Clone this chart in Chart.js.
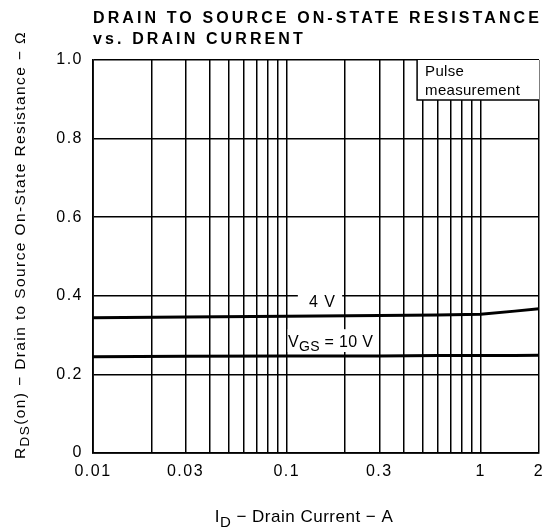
<!DOCTYPE html>
<html>
<head>
<meta charset="utf-8">
<script src="https://cdn.jsdelivr.net/npm/chart.js@4.4.1/dist/chart.umd.min.js"></script>
<style>
  html, body { margin: 0; padding: 0; background: #fff; }
  #wrap { width: 545px; height: 531px; position: relative; }
</style>
</head>
<body>
<div id="wrap"><canvas id="c" width="545" height="531"></canvas></div>
<script>
// ---- data ----
const currentA = [0.01, 0.03, 0.1, 0.3, 0.6, 1, 1.5, 2];
const rds4V    = [0.344, 0.346, 0.348, 0.350, 0.351, 0.353, 0.361, 0.367];
const rds10V   = [0.245, 0.246, 0.247, 0.247, 0.248, 0.248, 0.248, 0.249];

const xGridValues = [0.01,0.02,0.03,0.04,0.05,0.06,0.07,0.08,0.09,
                     0.1,0.2,0.3,0.4,0.5,0.6,0.7,0.8,0.9,1,2];
const xTickLabels = [0.01, 0.03, 0.1, 0.3, 1, 2];
const yTickValues = [0, 0.2, 0.4, 0.6, 0.8, 1.0];
const yTickLabels = ['0', '0.2', '0.4', '0.6', '0.8', '1.0'];

const titleLines = ['DRAIN TO SOURCE ON-STATE RESISTANCE', 'vs. DRAIN CURRENT'];
const label4V = '4 V';
const labelPulse = ['Pulse', 'measurement'];

const FONT = '"Liberation Sans", Arial, sans-serif';

function drawParts(ctx, parts, x, y, ls) {
  let cx = x;
  ctx.letterSpacing = (ls || 0) + 'px';
  parts.forEach(p => {
    ctx.font = p.size + 'px ' + FONT;
    ctx.fillText(p.t, cx, y + (p.dy || 0));
    cx += ctx.measureText(p.t).width;
  });
  return cx - x;
}
function partsWidth(ctx, parts, ls) {
  let w = 0;
  ctx.letterSpacing = (ls || 0) + 'px';
  parts.forEach(p => { ctx.font = p.size + 'px ' + FONT; w += ctx.measureText(p.t).width; });
  return w;
}

const decor = {
  id: 'decor',
  beforeDraw(chart) {
    chart.ctx.letterSpacing = '1.5px';
  },
  afterDatasetsDraw(chart) {
    const ctx = chart.ctx;
    const xs = chart.scales.x, ys = chart.scales.y;
    const area = chart.chartArea;
    ctx.save();
    ctx.fillStyle = '#000';
    ctx.strokeStyle = '#000';
    ctx.textBaseline = 'alphabetic';
    ctx.textAlign = 'left';

    // "4 V" label with white box
    let x0 = xs.getPixelForValue(0.114), x1 = xs.getPixelForValue(0.193);
    let y0 = ys.getPixelForValue(0.418), y1 = ys.getPixelForValue(0.358);
    ctx.fillStyle = '#fff';
    ctx.fillRect(x0, y0, x1 - x0, y1 - y0);
    ctx.fillStyle = '#000';
    drawParts(ctx, [{t: label4V, size: 16}], xs.getPixelForValue(0.13), ys.getPixelForValue(0.372), 1);

    // "VGS = 10 V" label with white box
    x0 = xs.getPixelForValue(0.101); x1 = xs.getPixelForValue(0.297);
    y0 = ys.getPixelForValue(0.315); y1 = ys.getPixelForValue(0.257);
    ctx.fillStyle = '#fff';
    ctx.fillRect(x0, y0, x1 - x0, y1 - y0);
    ctx.fillStyle = '#000';
    drawParts(ctx, [
      {t: 'V', size: 16},
      {t: 'GS', size: 14, dy: 4},
      {t: ' = 10 V', size: 16}
    ], xs.getPixelForValue(0.1015), ys.getPixelForValue(0.270), 0.3);

    // Pulse measurement box
    x0 = xs.getPixelForValue(0.47); x1 = area.right;
    y0 = area.top; y1 = ys.getPixelForValue(0.898);
    ctx.fillStyle = '#fff';
    ctx.fillRect(x0, y0, x1 - x0, y1 - y0);
    ctx.lineWidth = 1.5;
    ctx.beginPath();
    ctx.moveTo(x0, y0); ctx.lineTo(x0, y1); ctx.lineTo(x1, y1);
    ctx.stroke();
    ctx.fillStyle = '#000';
    drawParts(ctx, [{t: labelPulse[0], size: 15}], x0 + 8, y0 + 16, 0.3);
    drawParts(ctx, [{t: labelPulse[1], size: 15}], x0 + 8, y0 + 35, 0.3);

    ctx.restore();
  },
  afterDraw(chart) {
    const ctx = chart.ctx;
    const area = chart.chartArea;
    ctx.save();
    ctx.fillStyle = '#000';
    ctx.textAlign = 'left';
    ctx.textBaseline = 'alphabetic';

    // Title, letter-spaced to span the plot width
    ctx.font = 'bold 16px ' + FONT;
    ctx.letterSpacing = '0px';
    const w0 = ctx.measureText(titleLines[0]).width;
    const ls = (area.right - area.left - w0) / (titleLines[0].length - 1);
    ctx.letterSpacing = ls.toFixed(2) + 'px';
    ctx.fillText(titleLines[0], area.left, 23);
    ctx.fillText(titleLines[1], area.left, 44);

    // X axis title: I_D − Drain Current − A
    const xParts = [
      {t: 'I', size: 17},
      {t: 'D', size: 15, dy: 5},
      {t: ' \u2212 Drain Current \u2212 A', size: 17}
    ];
    const xw = partsWidth(ctx, xParts, 0.5);
    drawParts(ctx, xParts, 304 - xw / 2, 522, 0.5);

    // Y axis title (rotated)
    const yParts = [
      {t: 'R', size: 15.5},
      {t: 'DS', size: 13.5, dy: 4},
      {t: '(on) \u2212 Drain to Source On-State Resistance \u2212 \u03A9', size: 15.5}
    ];
    const yw = partsWidth(ctx, yParts, 1.4);
    ctx.translate(25, 245);
    ctx.rotate(-Math.PI / 2);
    drawParts(ctx, yParts, -yw / 2, 0, 1.4);
    ctx.restore();
  }
};

new Chart(document.getElementById('c'), {
  type: 'line',
  data: {
    datasets: [
      {
        label: 'VGS = 4 V',
        data: currentA.map((x, i) => ({x, y: rds4V[i]})),
        borderColor: '#000', borderWidth: 3, pointRadius: 0, tension: 0, fill: false
      },
      {
        label: 'VGS = 10 V',
        data: currentA.map((x, i) => ({x, y: rds10V[i]})),
        borderColor: '#000', borderWidth: 3, pointRadius: 0, tension: 0, fill: false
      }
    ]
  },
  options: {
    responsive: false,
    animation: false,
    devicePixelRatio: 1,
    layout: { padding: { left: 0, right: 6, top: 60, bottom: 0 } },
    plugins: {
      legend: { display: false },
      title: { display: false },
      tooltip: { enabled: false }
    },
    scales: {
      x: {
        type: 'logarithmic',
        min: 0.01, max: 2,
        afterBuildTicks: s => { s.ticks = xGridValues.map(v => ({value: v})); },
        afterFit: s => { s.height = 78; s.paddingRight = 0; s.paddingLeft = 0; },
        ticks: {
          autoSkip: false, maxRotation: 0, minRotation: 0,
          color: '#000', padding: 9,
          font: { family: FONT, size: 16 },
          callback: v => xTickLabels.includes(v) ? String(v) : ''
        },
        grid: { color: '#000', lineWidth: 1.5, drawTicks: false },
        border: { color: '#000', width: 1.8 }
      },
      y: {
        type: 'linear',
        min: 0, max: 1,
        afterBuildTicks: s => { s.ticks = yTickValues.map(v => ({value: v})); },
        afterFit: s => { s.width = 93; s.paddingTop = 0; s.paddingBottom = 0; },
        ticks: {
          color: '#000', padding: 10,
          font: { family: FONT, size: 16 },
          callback: (v) => { const i = yTickValues.indexOf(v); return i >= 0 ? yTickLabels[i] : ''; }
        },
        grid: { color: '#000', lineWidth: 1.5, drawTicks: false },
        border: { color: '#000', width: 1.8 }
      }
    }
  },
  plugins: [decor]
});
</script>
</body>
</html>
